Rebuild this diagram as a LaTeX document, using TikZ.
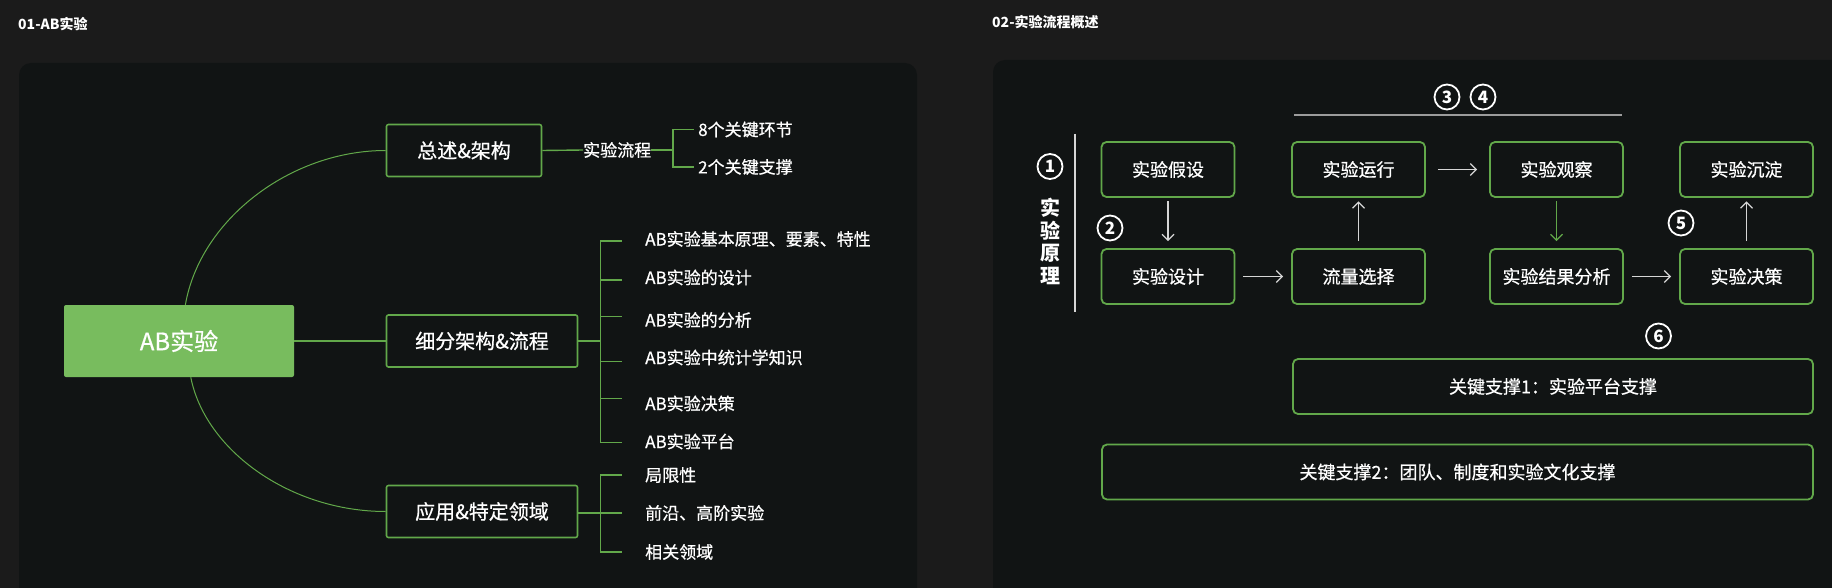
\documentclass[tikz,border=0pt]{standalone}
\usepackage{fontspec}
\setmainfont{Noto Sans CJK SC}
\newfontfamily\medium{Noto Sans CJK SC}[FakeBold=0.6]
\usetikzlibrary{arrows.meta}
\definecolor{pagebg}{HTML}{1B1B1B}
\definecolor{panelbg}{HTML}{111414}
\definecolor{leafgreen}{HTML}{78BC5E}
\definecolor{linegreen}{HTML}{62A84A}
\definecolor{arrowgrey}{HTML}{D6D6D6}
\definecolor{rulegrey}{HTML}{9C9C9C}

\begin{document}
\begin{tikzpicture}[x=1pt, y=-1pt, >={Straight Barb[length=6pt,width=12pt]},
    title/.style  = {anchor=west, inner sep=0pt, text=white,
                     font=\fontsize{14}{16}\selectfont\bfseries},
    root/.style   = {fill=leafgreen, rounded corners=2pt, text=white,
                     minimum width=230pt, minimum height=72pt,
                     font=\medium\fontsize{24}{28}\selectfont},
    topic/.style  = {draw=linegreen, line width=1.6pt, rounded corners=2pt,
                     text=white, minimum height=52pt,
                     font=\medium\fontsize{20}{24}\selectfont},
    leaf/.style   = {anchor=west, inner xsep=0pt, text=white,
                     font=\medium\fontsize{17}{20}\selectfont},
    stage/.style  = {draw=linegreen, line width=1.8pt, rounded corners=5pt,
                     text=white, minimum width=133pt, minimum height=55pt,
                     font=\medium\fontsize{18}{22}\selectfont},
    num/.style    = {circle, draw=white, line width=1.8pt, minimum size=25pt,
                     inner sep=0pt, text=white,
                     font=\fontsize{17}{17}\selectfont\bfseries},
    branch/.style = {draw=linegreen, line width=1.4pt},
    arr/.style    = {->, draw=arrowgrey, line width=1.2pt},
  ]
    % background and the two panels
    \clip (0,0) rectangle (1832,588);
    \fill[pagebg] (0,0) rectangle (1832,588);
    \fill[panelbg, rounded corners=12pt] (19,63) rectangle (917,620);
    \fill[panelbg, rounded corners=12pt] (993,60) rectangle (1860,620);
    \node[title] (t1) at (18,24) {01-AB实验};
    \node[title] (t2) at (992,22) {02-实验流程概述};

    % left: mind map
    \node[root] (ab) at (179,341) {AB实验};
    \node[topic, minimum width=155pt] (overview) at (464,150.5) {总述\&架构};
    \node[topic, minimum width=191pt] (detail) at (482,341) {细分架构\&流程};
    \node[topic, minimum width=191pt] (apply) at (482,511.5) {应用\&特定领域};

    \node[leaf] (flow) at (583,150) {实验流程};
    \coordinate (j0) at (673,150);
    \node[leaf] (o1) at (698,129.5) {8个关键环节};
    \node[leaf] (o2) at (698,167) {2个关键支撑};

    \coordinate (j1) at (600.5,341);
    \node[leaf] (d1) at (645,239)   {AB实验基本原理、要素、特性};
    \node[leaf] (d2) at (645,277.5) {AB实验的设计};
    \node[leaf] (d3) at (645,320)   {AB实验的分析};
    \node[leaf] (d4) at (645,357.5) {AB实验中统计学知识};
    \node[leaf] (d5) at (645,403.5) {AB实验决策};
    \node[leaf] (d6) at (645,441.5) {AB实验平台};
    \coordinate (k1) at (621.5,241);
    \coordinate (k2) at (621.5,280);
    \coordinate (k3) at (621.5,316.5);
    \coordinate (k4) at (621.5,361.5);
    \coordinate (k5) at (621.5,398.5);
    \coordinate (k6) at (621.5,442.5);

    \coordinate (j2) at (600.5,513);
    \node[leaf] (a1) at (645,475) {局限性};
    \node[leaf] (a2) at (645,513) {前沿、高阶实验};
    \node[leaf] (a3) at (645,552) {相关领域};

    \draw[linegreen, line width=1pt] (ab.80) .. controls (200,220) and (290,150.5) .. (overview.west);
    \draw[linegreen, line width=1pt] (ab.-72) .. controls (205,450) and (290,511.5) .. (apply.west);
    \draw[branch] (ab.east) -- (detail.west);

    \draw[branch] (overview.east) -- (flow.west);
    \draw[branch] (flow.east) -- (j0);
    \draw[branch] (j0) |- ([xshift=-4pt]o1.west);
    \draw[branch] (j0) |- ([xshift=-4pt]o2.west);

    \draw[branch] (detail.east) -- (j1);
    \draw[branch] (j1) |- (k1);
    \draw[branch] (j1) |- (k2);
    \draw[branch] (j1) |- (k3);
    \draw[branch] (j1) |- (k4);
    \draw[branch] (j1) |- (k5);
    \draw[branch] (j1) |- (k6);

    \draw[branch] (apply.east |- j2) -- (j2);
    \draw[branch] (j2) |- ([xshift=-23.5pt]a1.west);
    \draw[branch] (j2) |- ([xshift=-23.5pt]a2.west);
    \draw[branch] (j2) |- ([xshift=-23.5pt]a3.west);

    % right: experiment flow
    \node[num] (n1) at (1050,166.5) {1};
    \node[text=white, align=center, font=\fontsize{20}{22.5}\selectfont\bfseries]
        (basis) at (1050,241.5) {实\\验\\原\\理};
    \coordinate (sepTop) at (1075,134);
    \coordinate (sepBot) at (1075,312);
    \draw[arrowgrey, line width=1.2pt] (sepTop) -- (sepBot);

    \coordinate (ruleL) at (1294,115);
    \coordinate (ruleR) at (1622,115);
    \draw[rulegrey, line width=2pt] (ruleL) -- (ruleR);
    \node[num] (n3) at (1447,97) {3};
    \node[num] (n4) at (1483,97) {4};

    \node[stage] (hyp)     at (1168,169.5)   {实验假设};
    \node[stage] (design)  at (1168,276.5)   {实验设计};
    \node[stage] (run)     at (1358.5,169.5) {实验运行};
    \node[stage] (traffic) at (1358.5,276.5) {流量选择};
    \node[stage] (observe) at (1556.5,169.5) {实验观察};
    \node[stage] (analyse) at (1556.5,276.5) {实验结果分析};
    \node[stage] (settle)  at (1746.5,169.5) {实验沉淀};
    \node[stage] (decide)  at (1746.5,276.5) {实验决策};
    \node[num] (n2) at (1110,228) {2};
    \node[num] (n5) at (1681,223) {5};

    \draw[arr, shorten <=3.5pt, shorten >=7pt] (hyp.south) -- (design.north);
    \draw[arr, shorten <=8pt, shorten >=8pt] (design.east) -- (traffic.west);
    \draw[arr, shorten <=7pt, shorten >=3.5pt] (traffic.north) -- (run.south);
    \draw[arr, shorten <=12pt, shorten >=12pt] (run.east) -- (observe.west);
    \draw[arr, draw=linegreen, shorten <=3.5pt, shorten >=7pt] (observe.south) -- (analyse.north);
    \draw[arr, shorten <=8pt, shorten >=8pt] (analyse.east) -- (decide.west);
    \draw[arr, shorten <=7pt, shorten >=3.5pt] (decide.north) -- (settle.south);

    \node[num] (n6) at (1658.5,336) {6};
    \node[stage, minimum width=520pt] (sup1) at (1553,386.5) {关键支撑1：实验平台支撑};
    \node[stage, minimum width=711pt] (sup2) at (1457.5,472) {关键支撑2：团队、制度和实验文化支撑};
  \end{tikzpicture}
\end{document}
